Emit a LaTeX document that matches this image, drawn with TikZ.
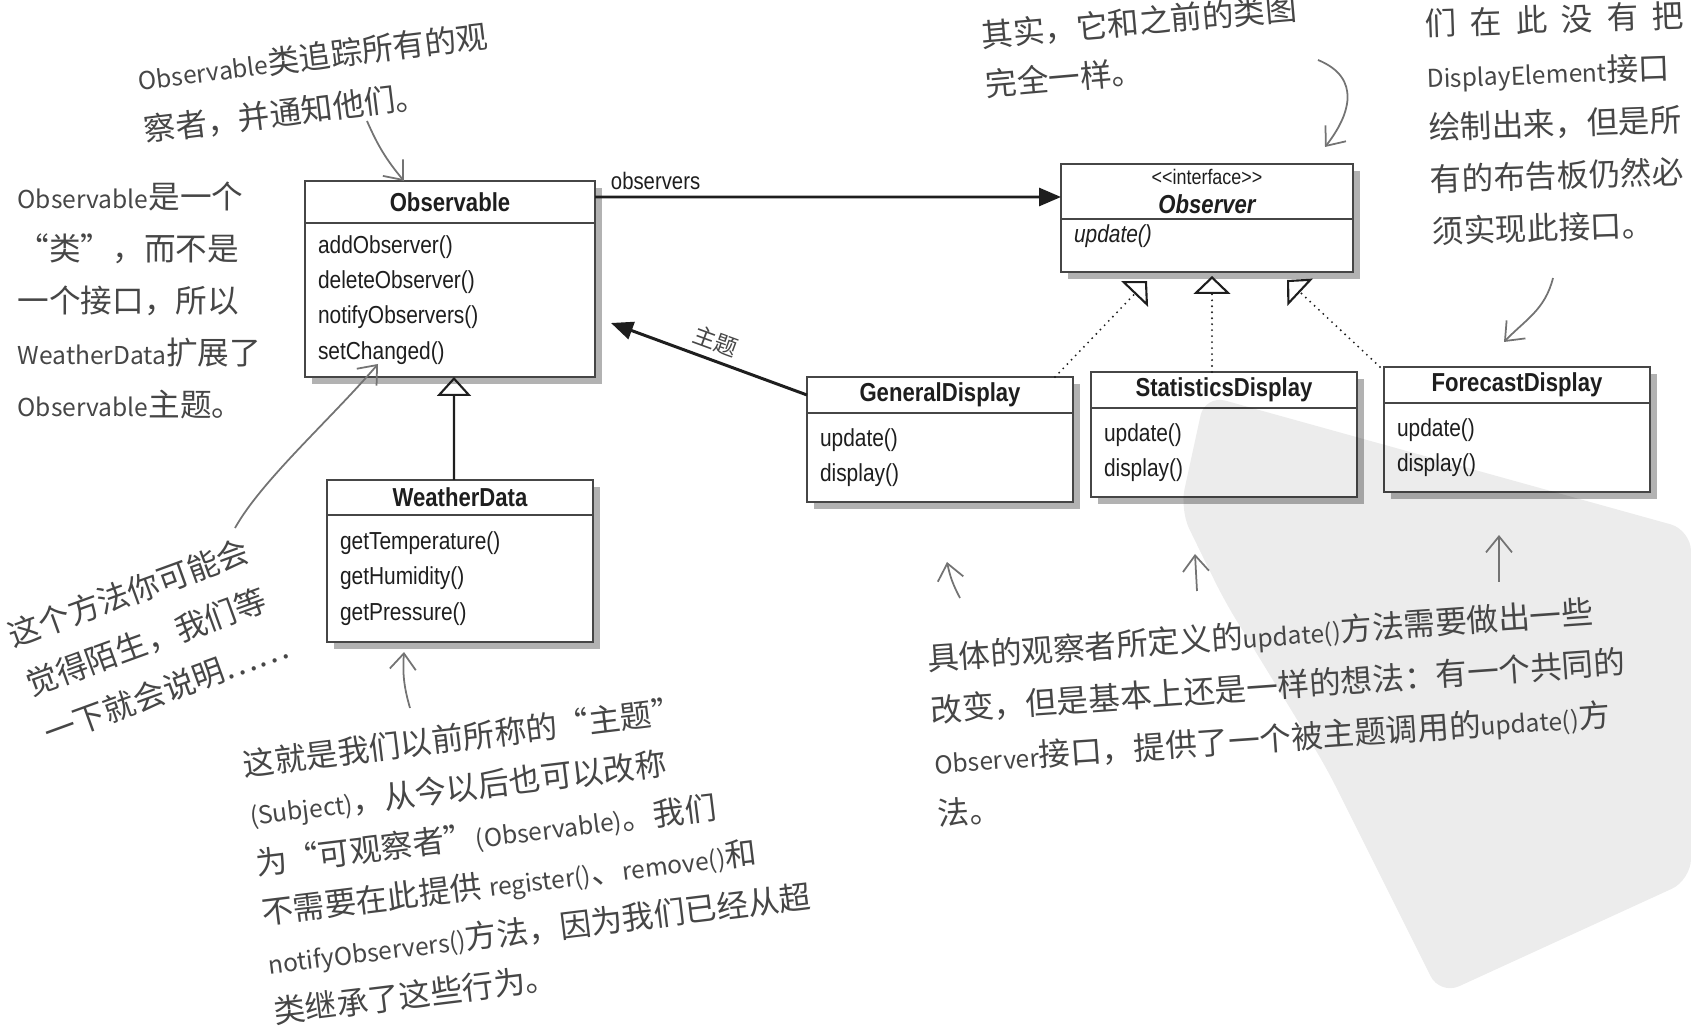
\documentclass[tikz,border=0pt]{standalone}
\usepackage{fontspec}
\setmainfont{Liberation Sans}
\newfontfamily\umlfont[FakeStretch=0.85]{Liberation Sans}
\newfontfamily\notefont{Noto Sans CJK SC}
\usetikzlibrary{arrows.meta,positioning,shadows}
\definecolor{umlink}{RGB}{30,30,30}
\definecolor{umlline}{RGB}{70,70,70}
\definecolor{noteink}{RGB}{70,70,70}
\definecolor{handline}{RGB}{115,115,115}
\definecolor{markgray}{RGB}{236,236,236}
\newcommand{\latn}[1]{{\fontsize{7}{7}\selectfont #1}}

\begin{document}
\begin{tikzpicture}[
  classhead/.style={draw=umlline, fill=white, line width=0.5pt, text=umlink, inner sep=0pt, outer sep=0pt,
    font={\umlfont\bfseries\fontsize{7.4}{8}\selectfont},
    drop shadow={shadow xshift=0.7mm, shadow yshift=-0.7mm, fill=black, opacity=0.3}},
  classbody/.style={draw=umlline, fill=white, line width=0.5pt, text=umlink, align=left, outer sep=0pt,
    inner xsep=0.13cm, inner ysep=0pt, font={\umlfont\fontsize{7}{10}\selectfont},
    drop shadow={shadow xshift=0.7mm, shadow yshift=-0.7mm, fill=black, opacity=0.3}},
  assoc/.style={draw=umlink, line width=0.85pt, -{Triangle[length=0.22cm, width=0.18cm]}},
  inherit/.style={draw=umlink, line width=0.6pt, -{Triangle[open, length=0.19cm, width=0.34cm]}},
  realize/.style={draw=umlink, line width=0.6pt, line cap=round, dash pattern=on 0pt off 1.7pt,
    -{Triangle[open, length=0.18cm, width=0.37cm, line cap=butt]}},
  notetext/.style={text=noteink, align=left, inner sep=0pt, font={\notefont\fontsize{9}{14.8}\selectfont}},
  handarrow/.style={draw=handline, line width=0.5pt, -{Straight Barb[length=1.6mm, width=2.6mm]}}
]
\useasboundingbox (0,0) rectangle (16.91,-10.31);

% classes
\node[classhead, minimum width=2.90cm, minimum height=0.42cm] (obshead) at (4.50,-2.02) {Observable};
\node[classbody, text width=2.64cm, minimum height=1.54cm, below=0pt of obshead] (obsops)
  {addObserver()\\deleteObserver()\\notifyObservers()\\setChanged()};

\node[classhead, minimum width=2.66cm, minimum height=0.35cm] (weatherhead) at (4.60,-4.975) {WeatherData};
\node[classbody, text width=2.40cm, minimum height=1.27cm, below=0pt of weatherhead] (weatherops)
  {getTemperature()\\getHumidity()\\getPressure()};

\node[classhead, minimum width=2.92cm, minimum height=0.55cm, align=center] (observer) at (12.07,-1.915)
  {{\mdseries\fontsize{6}{7}\selectfont <{}<interface>{}>}\\{\itshape Observer}};
\node[classbody, text width=2.66cm, text height=0.24cm, text depth=0.29cm, below=0pt of observer] (observerops)
  {\itshape update()};

\node[classhead, minimum width=2.66cm, minimum height=0.36cm] (genhead) at (9.40,-3.95) {GeneralDisplay};
\node[classbody, text width=2.40cm, minimum height=0.89cm, below=0pt of genhead] (genops)
  {update()\\display()};

\node[classhead, minimum width=2.66cm, minimum height=0.36cm] (stathead) at (12.24,-3.90) {StatisticsDisplay};
\node[classbody, text width=2.40cm, minimum height=0.89cm, below=0pt of stathead] (statops)
  {update()\\display()};

\node[classhead, minimum width=2.66cm, minimum height=0.36cm] (forehead) at (15.17,-3.85) {ForecastDisplay};
\node[classbody, text width=2.40cm, minimum height=0.89cm, below=0pt of forehead] (foreops)
  {update()\\display()};

% watermark, laid over the display classes
\fill[markgray, blend mode=multiply, rounded corners=6pt] (12.05,-3.95) -- (16.91,-5.30) -- (16.91,-8.80)
  -- (14.40,-9.95) -- (13.26,-7.67) -- (12.24,-6.00) -- (11.80,-5.10) -- cycle;

% relations
\draw[assoc] ([yshift=0.5mm]obshead.east) --
  node[pos=0.13, above, inner sep=1.5pt, text=umlink, font={\umlfont\fontsize{6.8}{7}\selectfont}] {observers}
  ([yshift=-0.55mm]observer.west);
\draw[assoc] (genhead.west) --
  node[sloped, above, inner sep=2pt, text=noteink, font={\notefont\fontsize{6.5}{7}\selectfont}] {主题}
  ([xshift=1.6mm, yshift=-2.3mm]obsops.east);
\draw[inherit] ([xshift=-0.6mm]weatherhead.north) -- ([xshift=0.4mm]obsops.south);
\draw[realize] ([xshift=-1.8mm]genhead.north east) -- ([xshift=-6.0mm, yshift=-0.9mm]observerops.south);
\draw[realize] ([xshift=-1.2mm]stathead.north) -- ([xshift=0.5mm, yshift=-0.4mm]observerops.south);
\draw[realize] ([xshift=-0.4mm]forehead.north west) -- ([xshift=8.0mm, yshift=-0.8mm]observerops.south);

% handwritten notes
\node[notetext, rotate=7] (noteobs) at (3.16,-0.83)
  {\latn{Observable}类追踪所有的观\\察者，并通知他们。};
\node[notetext, anchor=west] (noteclass) at (0.17,-3.00)
  {\latn{Observable}是一个\\“类”，而不是\\一个接口，所以\\\latn{WeatherData}扩展了\\\latn{Observable}主题。};
\node[notetext, rotate=20] (notestrange) at (1.48,-6.41)
  {这个方法你可能会\\觉得陌生，我们等\\一下就会说明……};
\node[notetext, anchor=west, rotate=7, font={\notefont\fontsize{9}{14.2}\selectfont}] (notesubject) at (2.58,-8.88)
  {这就是我们以前所称的“主题”\\\latn{(Subject)}，从今以后也可以改称\\为“可观察者”\latn{(Observable)}。我们\\不需要在此提供 \latn{register()}、\latn{remove()}和\\\latn{notifyObservers()}方法，因为我们已经从超\\类继承了这些行为。};
\node[notetext, anchor=west, rotate=5, font={\notefont\fontsize{9}{14}\selectfont}] (notesame) at (9.83,-0.60)
  {其实，它和之前的类图\\完全一样。};
\node[notetext, anchor=west, rotate=2] (notedisplay) at (14.28,-1.28)
  {\makebox[2.59cm][s]{们\hfill 在\hfill 此\hfill 没\hfill 有\hfill 把}\\\latn{DisplayElement}接口\\绘制出来，但是所\\有的布告板仍然必\\须实现此接口。};
\node[notetext, anchor=west, rotate=4] (noteupdate) at (9.32,-7.36)
  {具体的观察者所定义的\latn{update()}方法需要做出一些\\改变，但是基本上还是一样的想法：有一个共同的\\\latn{Observer}接口，提供了一个被主题调用的\latn{update()}方\\法。};

% pointers from the notes
\coordinate (tailobs) at (3.67,-1.21);
\coordinate (tailstrange) at (2.35,-5.28);
\coordinate (tailsubject) at (4.10,-7.08);
\coordinate (tailsame) at (13.18,-0.60);
\coordinate (taildisplay) at (15.53,-2.78);
\coordinate (tailgen) at (9.60,-5.98);
\coordinate (tailstat) at (11.97,-5.91);
\coordinate (tailfore) at (14.99,-5.82);
\draw[handarrow] (tailobs) to[bend right=8] ([xshift=-4.6mm]obshead.north);
\draw[handarrow] (tailstrange) .. controls (2.62,-4.80) and (3.30,-4.20) .. ([xshift=-7.2mm, yshift=1.3mm]obsops.south);
\draw[handarrow] (tailsubject) to[bend left=10] ([xshift=-5.6mm, yshift=-1.0mm]weatherops.south);
\draw[handarrow] (tailsame) .. controls (13.62,-0.78) and (13.50,-1.15) .. ([xshift=11.8mm, yshift=1.7mm]observer.north);
\draw[handarrow] (taildisplay) .. controls (15.45,-3.10) and (15.25,-3.20) .. ([xshift=-1.3mm, yshift=2.5mm]forehead.north);
\draw[handarrow] (tailgen) to[bend left=8] ([xshift=0.7mm, yshift=-6.0mm]genops.south);
\draw[handarrow] (tailstat) -- ([xshift=-2.9mm, yshift=-5.7mm]statops.south);
\draw[handarrow] (tailfore) -- ([xshift=-1.8mm, yshift=-4.3mm]foreops.south);
\end{tikzpicture}
\end{document}
